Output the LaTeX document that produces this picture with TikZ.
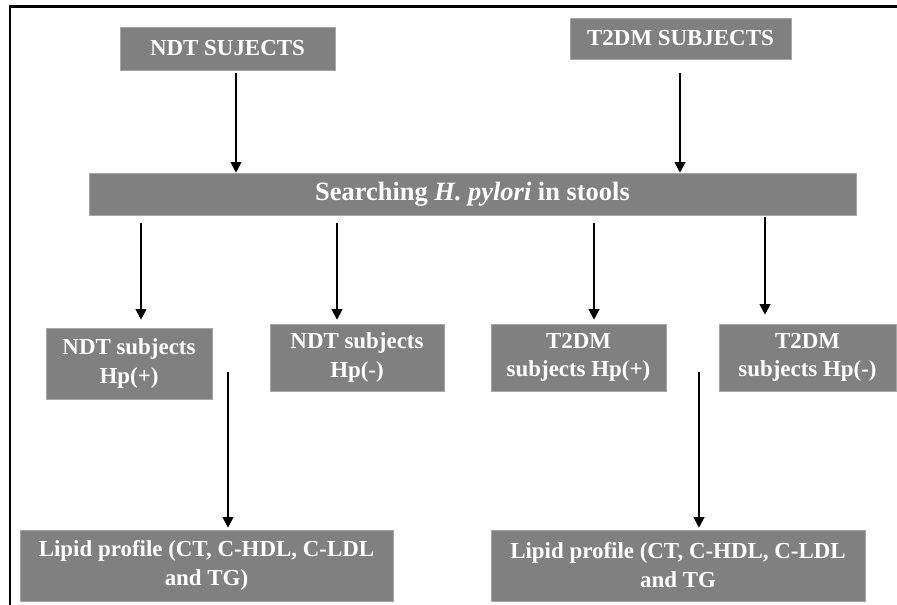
\documentclass[tikz,border=0pt]{standalone}
\usepackage{fontspec}
\setmainfont{Liberation Serif}
\usetikzlibrary{arrows.meta,calc}

\begin{document}
\begin{tikzpicture}[x=0.025cm,y=-0.025cm,
  box/.style={fill=gray,draw=gray!70,text=white,align=center,inner sep=0pt},
  arr/.style={-{Triangle[length=7.5pt,width=7.5pt]},line width=1.4pt}]
  \useasboundingbox (0,0) rectangle (897,605);
  \draw[line width=1.8pt] (10,605) -- (10,6.5) -- (897,6.5);

  \node[box,minimum width=5.375cm,minimum height=1.075cm,font=\bfseries\fontsize{16.3}{19}\selectfont] (ndt) at (227.5,48.5) {NDT SUJECTS};
  \node[box,minimum width=5.525cm,minimum height=1.025cm,font=\bfseries\fontsize{16.3}{19}\selectfont] (t2dm) at (680.5,38.5) {T2DM SUBJECTS};
  \node[box,minimum width=19.175cm,minimum height=1.05cm,font=\bfseries\fontsize{18.8}{22}\selectfont] (search) at (472.5,194) {Searching \textit{H. pylori} in stools};

  \node[box,minimum width=4.15cm,minimum height=1.775cm,font=\bfseries\fontsize{16.3}{20}\selectfont] (hpa) at (129,363.5) {NDT subjects\\Hp(+)};
  \node[box,minimum width=4.35cm,minimum height=1.675cm,font=\bfseries\fontsize{16.3}{20}\selectfont] (hpb) at (357,357.5) {NDT subjects\\Hp(-)};
  \node[box,minimum width=4.375cm,minimum height=1.675cm,font=\bfseries\fontsize{16.3}{20}\selectfont] (hpc) at (578.5,357.5) {T2DM\\subjects Hp(+)};
  \node[box,minimum width=4.425cm,minimum height=1.675cm,font=\bfseries\fontsize{16.3}{20}\selectfont] (hpd) at (807.5,357.5) {T2DM\\subjects Hp(-)};

  \node[box,minimum width=9.325cm,minimum height=1.775cm,font=\bfseries\fontsize{16.3}{20.6}\selectfont] (lipa) at (206.5,565.5) {Lipid profile (CT, C-HDL, C-LDL\\and TG)};
  \node[box,minimum width=9.35cm,minimum height=1.775cm,font=\bfseries\fontsize{16.3}{20.6}\selectfont] (lipb) at (678,565.5) {Lipid profile (CT, C-HDL, C-LDL\\and TG};

  % arrow columns
  \coordinate (ca) at (236,0);
  \coordinate (cb) at (680,0);
  \coordinate (c1) at (141,0);
  \coordinate (c2) at (337,0);
  \coordinate (c3) at (594,0);
  \coordinate (c4) at (765,0);
  \coordinate (l1) at (228,372);
  \coordinate (l2) at (699,372);

  \draw[arr,shorten <=2pt] (ndt.south -| ca) -- (search.north -| ca);
  \draw[arr,shorten <=10pt] (t2dm.south -| cb) -- (search.north -| cb);

  \draw[arr,shorten <=5.7pt,shorten >=5.7pt] (search.south -| c1) -- (hpa.north -| c1);
  \draw[arr,shorten <=5.7pt,shorten >=2.8pt] (search.south -| c2) -- (hpb.north -| c2);
  \draw[arr,shorten <=5.7pt,shorten >=2.8pt] (search.south -| c3) -- (hpc.north -| c3);
  \draw[arr,shorten <=1.4pt,shorten >=6.4pt] (search.south -| c4) -- (hpd.north -| c4);

  \draw[arr,shorten >=1.4pt] (l1) -- (lipa.north -| l1);
  \draw[arr,shorten >=1.4pt] (l2) -- (lipb.north -| l2);

\end{tikzpicture}
\end{document}
